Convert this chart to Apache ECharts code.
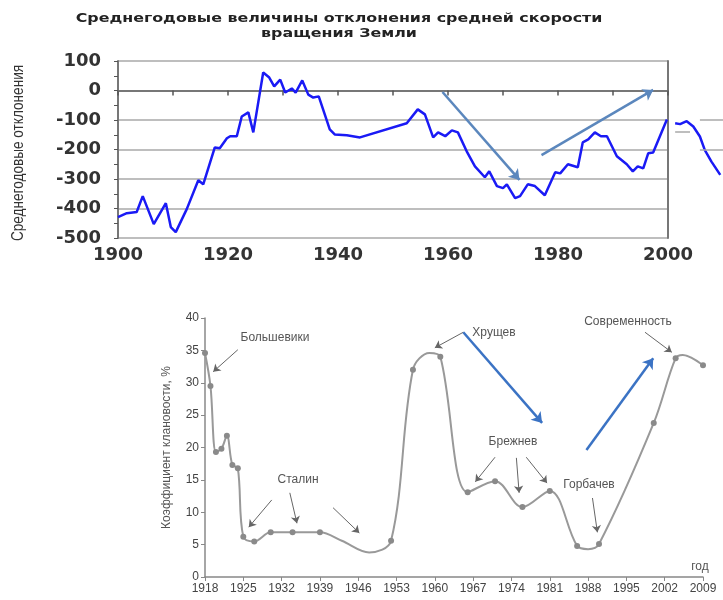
<!DOCTYPE html>
<html>
<head>
<meta charset="utf-8">
<script src="https://cdn.jsdelivr.net/npm/echarts@6/dist/echarts.min.js"></script>
<style>
  html, body { margin: 0; padding: 0; background: #fff; }
  #chart { width: 723px; height: 600px; }
</style>
</head>
<body>
<div id="chart"></div>
<script>
// верхний график: отклонения скорости вращения Земли
var topYears = [1900, 1901.6, 1903.4, 1904.5, 1906.5, 1908.7, 1909.6, 1910.5, 1912.5, 1914.6,
  1915.5, 1917.6, 1918.5, 1919.8, 1920.4, 1921.6, 1922.5, 1923.7, 1924.6, 1926.4,
  1927.5, 1928.4, 1929.5, 1930.4, 1931.6, 1932.3, 1933.5, 1934.6, 1935.5, 1936.5,
  1938.5, 1939.4, 1941.6, 1944, 1952.5, 1954.5, 1955.8, 1957.3, 1958.2, 1959.5,
  1960.7, 1961.8, 1963.5, 1964.9, 1966.7, 1967.5, 1968.9, 1970, 1970.7, 1972.2,
  1973.1, 1974.5, 1975.8, 1977.6, 1979.5, 1980.4, 1981.8, 1983.6, 1984.5, 1985.5,
  1986.7, 1987.8, 1988.9, 1990.7, 1992.5, 1993.6, 1994.5, 1995.5, 1996.4, 1997.3, 1999.8];
var topValues = [-429, -416, -412, -358, -453, -382, -463, -480, -402, -304,
  -318, -193, -196, -162, -155, -155, -88, -74, -142, 61,
  44, 14, 37, -7, 7, -7, 34, -14, -24, -20,
  -132, -149, -152, -159, -111, -64, -81, -159, -142, -155,
  -135, -142, -210, -257, -294, -274, -324, -331, -318, -365,
  -358, -318, -324, -355, -277, -281, -250, -260, -176, -166,
  -142, -155, -155, -223, -250, -274, -257, -264, -213, -210, -98];
// хвост после 2000 г. (отдельный фрагмент справа)
var tailYears = [2001.3, 2002.2, 2003.4, 2004.6, 2005.8, 2006.7, 2007.9, 2009.5];
var tailValues = [-111, -114, -104, -122, -156, -202, -241, -286];
var topArrows = [[[1959, -5], [1973, -303]], [[1977, -219], [1997.3, 2]]];
var tailGrid = [[[2005.8, -100], [2010, -100]], [[2005.8, -200], [2010, -200]], [[2001.3, -140], [2004, -140]]];

// нижний график: коэффициент клановости
var botYears = [1918, 1919, 1920, 1921, 1922, 1923, 1924, 1925, 1927, 1930,
  1934, 1939, 1943, 1948, 1952, 1956, 1959, 1961, 1966, 1971,
  1976, 1981, 1986, 1988, 1990, 2000, 2004, 2005.3, 2009];
var botValues = [34.6, 29.5, 19.3, 19.8, 21.8, 17.3, 16.8, 6.2, 5.5, 6.9,
  6.9, 6.9, 5.6, 3.8, 5.6, 32, 34.6, 34.0, 13.1, 14.8,
  10.8, 13.3, 4.8, 4.3, 5.1, 23.8, 33.8, 34.3, 32.7];
var botMarked = [1, 1, 1, 1, 1, 1, 1, 1, 1, 1,
  1, 1, 0, 0, 1, 1, 0, 1, 1, 1,
  1, 1, 1, 0, 1, 1, 1, 0, 1];
var grayArrows = [
  [[1924.0, 35.1], [1919.5, 31.7]],
  [[1930.2, 11.9], [1926.0, 7.7]],
  [[1933.5, 13.0], [1934.8, 8.3]],
  [[1941.4, 10.7], [1946.2, 6.8]],
  [[1965.2, 37.8], [1960.0, 35.4]],
  [[1971.0, 18.5], [1967.4, 14.7]],
  [[1974.9, 18.4], [1975.4, 13.0]],
  [[1976.7, 18.5], [1980.5, 14.5]],
  [[1988.8, 12.2], [1989.7, 6.9]],
  [[1998.4, 37.8], [2003.3, 34.7]]
];
var blueArrows = [
  [[1965.2, 37.8], [1979.6, 23.8]],
  [[1987.7, 19.6], [1999.9, 33.8]]
];
var notes = [
  ['Большевики', 275, 338], ['Сталин', 298, 480], ['Хрущев', 494, 333],
  ['Брежнев', 513, 442], ['Горбачев', 589, 485], ['Современность', 628, 322],
  ['год', 700, 567]
];

function pairs(xs, ys) {
  return xs.map(function (x, i) { return [x, ys[i]]; });
}
function arrowData(list) {
  return list.map(function (a) {
    return [{ coord: a[0] }, { coord: a[1] }];
  });
}
function plain(v) { return String(v); }

var chart = echarts.init(document.getElementById('chart'), null, { renderer: 'canvas' });

var boldLabel = { fontFamily: 'DejaVu Sans', fontWeight: 'bold', fontSize: 18, color: '#333', formatter: plain };
var grayLabel = { fontFamily: 'Liberation Sans', fontSize: 12, color: '#444', formatter: plain };

var botData = botYears.map(function (y, i) {
  var item = { value: [y, botValues[i]] };
  if (!botMarked[i]) item.symbol = 'none';
  return item;
});

var option = {
  backgroundColor: '#ffffff',
  animation: false,
  grid: [
    { left: 118, top: 61, width: 550, height: 177 },
    { left: 668, top: 61, width: 55, height: 177 },
    { left: 205, top: 318, right: 20, bottom: 23 }
  ],
  xAxis: [
    {
      gridIndex: 0, type: 'value', min: 1900, max: 2000, interval: 20,
      axisLine: { show: true, lineStyle: { color: '#777', width: 2 } },
      axisTick: { show: true, length: 5, lineStyle: { color: '#555', width: 1.5 } },
      minorTick: { show: true, splitNumber: 2, length: 5, lineStyle: { color: '#555', width: 1.5 } },
      splitLine: { show: false },
      axisLabel: Object.assign({ margin: 8 }, boldLabel)
    },
    { gridIndex: 1, type: 'value', min: 2000, max: 2010, show: false },
    {
      gridIndex: 2, type: 'value', min: 1918, max: 2009, interval: 7,
      axisLine: { show: true, lineStyle: { color: '#888', width: 1.5 } },
      axisTick: { show: true, length: 4, lineStyle: { color: '#888' } },
      splitLine: { show: false },
      axisLabel: Object.assign({ margin: 6 }, grayLabel)
    }
  ],
  yAxis: [
    {
      gridIndex: 0, type: 'value', min: -500, max: 100, interval: 100,
      axisLine: { show: true, lineStyle: { color: '#777', width: 2 } },
      axisTick: { show: true, length: 4, lineStyle: { color: '#555' } },
      minorTick: { show: true, splitNumber: 2, length: 4, lineStyle: { color: '#555' } },
      splitLine: { show: true, lineStyle: { color: '#a8a8a8', width: 1.5 } },
      axisLabel: Object.assign({ margin: 17 }, boldLabel)
    },
    {
      gridIndex: 0, type: 'value', min: -500, max: 100, position: 'right',
      axisLine: { show: true, lineStyle: { color: '#777', width: 2 } },
      axisTick: { show: false }, axisLabel: { show: false }, splitLine: { show: false }
    },
    { gridIndex: 1, type: 'value', min: -500, max: 100, show: false },
    {
      gridIndex: 2, type: 'value', min: 0, max: 40, interval: 5,
      name: 'Коэффициент клановости, %', nameLocation: 'middle', nameGap: 32,
      nameTextStyle: { fontFamily: 'Liberation Sans', fontSize: 12, color: '#555' },
      axisLine: { show: true, lineStyle: { color: '#888', width: 1.5 } },
      axisTick: { show: true, length: 4, lineStyle: { color: '#888' } },
      splitLine: { show: false },
      axisLabel: Object.assign({ margin: 6 }, grayLabel)
    }
  ],
  graphic: [
    {
      type: 'text', x: 339, y: 11, scaleX: 1.22,
      style: {
        text: 'Среднегодовые величины отклонения средней скорости\nвращения Земли',
        align: 'center', font: 'bold 13px "DejaVu Sans"', fill: '#222', lineHeight: 15
      }
    },
    {
      // подпись оси Y верхнего графика (узкий шрифт)
      type: 'text', x: 18, y: 153, rotation: Math.PI / 2, scaleX: 0.8,
      style: {
        text: 'Среднегодовые отклонения', align: 'center', verticalAlign: 'middle',
        font: '17px "Liberation Sans"', fill: '#333'
      }
    }
  ].concat(notes.map(function (n) {
    return {
      type: 'text', x: n[1], y: n[2],
      style: { text: n[0], align: 'center', verticalAlign: 'middle', font: '12px "Liberation Sans"', fill: '#555' }
    };
  })),
  series: [
    {
      type: 'line', xAxisIndex: 0, yAxisIndex: 0,
      data: pairs(topYears, topValues),
      showSymbol: false,
      lineStyle: { color: '#1a1af5', width: 2.5 },
      markLine: {
        silent: true, symbol: ['none', 'arrow'], symbolSize: 10,
        label: { show: false },
        lineStyle: { type: 'solid', color: '#5b87bd', width: 2.5 },
        data: arrowData(topArrows)
      }
    },
    {
      type: 'line', xAxisIndex: 1, yAxisIndex: 2,
      data: pairs(tailYears, tailValues),
      showSymbol: false,
      lineStyle: { color: '#1a1af5', width: 2.5 },
      markLine: {
        silent: true, symbol: 'none',
        label: { show: false },
        lineStyle: { type: 'solid', color: '#a8a8a8', width: 1.5 },
        data: arrowData(tailGrid)
      }
    },
    {
      type: 'line', xAxisIndex: 2, yAxisIndex: 3,
      data: botData,
      smooth: 0.35,
      symbol: 'circle', symbolSize: 6,
      itemStyle: { color: '#8a8a8a' },
      lineStyle: { color: '#999', width: 2 },
      markLine: {
        silent: true, symbol: ['none', 'arrow'], symbolSize: 7,
        label: { show: false },
        lineStyle: { type: 'solid', color: '#666', width: 1 },
        data: arrowData(grayArrows)
      }
    },
    {
      type: 'line', xAxisIndex: 2, yAxisIndex: 3,
      data: [],
      markLine: {
        silent: true, symbol: ['none', 'arrow'], symbolSize: 10,
        label: { show: false },
        lineStyle: { type: 'solid', color: '#3b73c4', width: 2.5 },
        data: arrowData(blueArrows)
      }
    }
  ]
};

chart.setOption(option);
</script>
</body>
</html>
